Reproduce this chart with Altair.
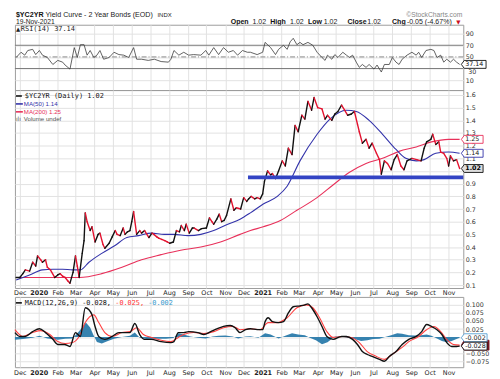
import altair as alt
import numpy as np
import pandas as pd

# ---------------- data ----------------
price_dates = [
    "2019-11-25", "2019-12-01", "2019-12-06", "2019-12-10", "2019-12-17", "2019-12-22", "2019-12-27", "2019-12-30", "2020-01-04", "2020-01-07",
    "2020-01-12", "2020-01-15", "2020-01-20", "2020-01-27", "2020-02-01", "2020-02-05", "2020-02-09", "2020-02-13", "2020-02-18", "2020-02-21",
    "2020-02-26", "2020-03-01", "2020-03-04", "2020-03-07", "2020-03-12", "2020-03-15", "2020-03-17", "2020-03-20", "2020-03-25", "2020-03-28",
    "2020-04-02", "2020-04-07", "2020-04-10", "2020-04-15", "2020-04-18", "2020-04-25", "2020-04-30", "2020-05-05", "2020-05-08", "2020-05-13",
    "2020-05-18", "2020-05-21", "2020-05-25", "2020-05-29", "2020-06-01", "2020-06-04", "2020-06-09", "2020-06-14", "2020-06-17", "2020-06-22",
    "2020-06-29", "2020-07-04", "2020-07-07", "2020-07-12", "2020-07-15", "2020-07-20", "2020-07-25", "2020-07-29", "2020-08-02", "2020-08-08",
    "2020-08-13", "2020-08-18", "2020-08-21", "2020-08-26", "2020-08-29", "2020-09-03", "2020-09-08", "2020-09-11", "2020-09-18", "2020-09-23",
    "2020-10-01", "2020-10-06", "2020-10-10", "2020-10-13", "2020-10-18", "2020-10-22", "2020-10-26", "2020-10-30", "2020-11-03", "2020-11-10",
    "2020-11-15", "2020-11-19", "2020-11-26", "2020-12-01", "2020-12-06", "2020-12-09", "2020-12-13", "2020-12-19", "2020-12-23", "2020-12-28",
    "2021-01-01", "2021-01-04", "2021-01-09", "2021-01-14", "2021-01-17", "2021-01-22", "2021-01-27", "2021-02-02", "2021-02-07", "2021-02-12",
    "2021-02-18", "2021-02-23", "2021-02-28", "2021-03-06", "2021-03-11", "2021-03-16", "2021-03-22", "2021-03-26", "2021-04-01", "2021-04-08",
    "2021-04-13", "2021-04-17", "2021-04-24", "2021-04-29", "2021-05-04", "2021-05-10", "2021-05-15", "2021-05-20", "2021-05-26", "2021-05-31",
    "2021-06-05", "2021-06-08", "2021-06-13", "2021-06-19", "2021-06-24", "2021-06-29", "2021-07-06", "2021-07-11", "2021-07-14", "2021-07-19",
    "2021-07-24", "2021-07-30", "2021-08-04", "2021-08-09", "2021-08-15", "2021-08-20", "2021-08-25", "2021-09-02", "2021-09-10", "2021-09-17",
    "2021-09-22", "2021-09-26", "2021-10-03", "2021-10-06", "2021-10-11", "2021-10-16", "2021-10-19", "2021-10-24", "2021-10-29", "2021-11-01",
    "2021-11-04", "2021-11-09", "2021-11-14", "2021-11-19",
]
price_values = [
    0.16, 0.16, 0.19, 0.22, 0.21, 0.28, 0.25, 0.33, 0.30, 0.28,
    0.30, 0.24, 0.22, 0.16, 0.18, 0.19, 0.17, 0.16, 0.13, 0.115,
    0.20, 0.33, 0.25, 0.16, 0.35, 0.45, 0.67, 0.60, 0.53, 0.56,
    0.44, 0.50, 0.51, 0.42, 0.39, 0.43, 0.48, 0.53, 0.50, 0.49,
    0.55, 0.50, 0.52, 0.53, 0.60, 0.68, 0.50, 0.53, 0.51, 0.53,
    0.475, 0.51, 0.50, 0.48, 0.47, 0.46, 0.45, 0.44, 0.43, 0.44,
    0.53, 0.52, 0.57, 0.53, 0.58, 0.51, 0.55, 0.55, 0.53, 0.545,
    0.55, 0.63, 0.60, 0.58, 0.62, 0.66, 0.60, 0.61, 0.65, 0.78,
    0.69, 0.71, 0.70, 0.79, 0.76, 0.78, 0.80, 0.78, 0.79, 0.78,
    0.82, 0.92, 1.00, 0.97, 0.98, 0.94, 1.00, 1.08, 1.04, 1.18,
    1.13, 1.36, 1.31, 1.44, 1.41, 1.55, 1.48, 1.58, 1.50, 1.49,
    1.41, 1.44, 1.40, 1.45, 1.47, 1.52, 1.48, 1.44, 1.45, 1.47,
    1.37, 1.31, 1.22, 1.25, 1.18, 1.22, 1.14, 1.09, 0.975, 1.08,
    1.06, 1.01, 1.09, 1.13, 1.04, 1.01, 1.08, 1.10, 1.09, 1.08,
    1.18, 1.23, 1.25, 1.29, 1.21, 1.23, 1.15, 1.14, 1.10, 1.04,
    1.12, 1.08, 1.09, 1.02,
]

ma50_dates = [
    "2019-11-25", "2019-12-17", "2020-01-07", "2020-01-24", "2020-02-09", "2020-02-25", "2020-03-09", "2020-03-23", "2020-04-13", "2020-05-04",
    "2020-05-24", "2020-06-12", "2020-07-03", "2020-07-24", "2020-08-09", "2020-09-01", "2020-09-22", "2020-10-13", "2020-11-05", "2020-11-25",
    "2020-12-12", "2021-01-02", "2021-01-25", "2021-02-10", "2021-03-03", "2021-03-31", "2021-04-21", "2021-05-18", "2021-06-03", "2021-06-24",
    "2021-07-16", "2021-08-07", "2021-08-23", "2021-09-09", "2021-09-22", "2021-10-11", "2021-11-01", "2021-11-19",
]
ma50_values = [
    0.14, 0.18, 0.22, 0.225, 0.225, 0.22, 0.22, 0.28, 0.35, 0.41,
    0.475, 0.49, 0.51, 0.50, 0.50, 0.49, 0.50, 0.53, 0.58, 0.62,
    0.67, 0.74, 0.80, 0.88, 1.08, 1.29, 1.41, 1.48, 1.47, 1.40,
    1.29, 1.17, 1.10, 1.08, 1.09, 1.14, 1.15, 1.14,
]

ma200_dates = [
    "2019-11-25", "2019-12-27", "2020-01-29", "2020-03-07", "2020-04-13", "2020-05-16", "2020-06-17", "2020-07-19", "2020-08-20", "2020-09-22",
    "2020-10-24", "2020-11-25", "2020-12-12", "2021-01-02", "2021-01-30", "2021-02-26", "2021-03-31", "2021-04-26", "2021-05-23", "2021-06-19",
    "2021-07-16", "2021-08-12", "2021-09-09", "2021-10-04", "2021-11-01", "2021-11-19",
]
ma200_values = [
    0.16, 0.16, 0.16, 0.16, 0.19, 0.24, 0.30, 0.34, 0.375, 0.40,
    0.44, 0.50, 0.53, 0.56, 0.61, 0.69, 0.79, 0.89, 0.99, 1.06,
    1.10, 1.155, 1.19, 1.23, 1.25, 1.25,
]

support_level = [0.95]
support_start = ["2020-12-08"]

rsi_dates = [
    "2019-11-25", "2019-12-03", "2019-12-09", "2019-12-14", "2019-12-22", "2019-12-27", "2020-01-02", "2020-01-07", "2020-01-15", "2020-01-24",
    "2020-02-01", "2020-02-09", "2020-02-13", "2020-02-21", "2020-02-28", "2020-03-04", "2020-03-09", "2020-03-15", "2020-03-20", "2020-03-25",
    "2020-03-31", "2020-04-05", "2020-04-10", "2020-04-16", "2020-04-25", "2020-05-03", "2020-05-11", "2020-05-19", "2020-05-27", "2020-06-04",
    "2020-06-09", "2020-06-17", "2020-06-28", "2020-07-08", "2020-07-19", "2020-07-31", "2020-08-04", "2020-08-09", "2020-08-17", "2020-08-25",
    "2020-09-02", "2020-09-10", "2020-09-22", "2020-09-30", "2020-10-05", "2020-10-13", "2020-10-21", "2020-10-29", "2020-11-06", "2020-11-14",
    "2020-11-21", "2020-11-29", "2020-12-07", "2020-12-12", "2020-12-23", "2021-01-01", "2021-01-05", "2021-01-14", "2021-01-22", "2021-01-27",
    "2021-02-04", "2021-02-10", "2021-02-15", "2021-02-20", "2021-02-26", "2021-03-03", "2021-03-08", "2021-03-16", "2021-03-24", "2021-03-31",
    "2021-04-08", "2021-04-13", "2021-04-17", "2021-04-24", "2021-04-29", "2021-05-04", "2021-05-12", "2021-05-18", "2021-05-23", "2021-05-28",
    "2021-06-03", "2021-06-08", "2021-06-13", "2021-06-19", "2021-06-24", "2021-07-02", "2021-07-07", "2021-07-14", "2021-07-19", "2021-07-27",
    "2021-08-01", "2021-08-07", "2021-08-12", "2021-08-17", "2021-08-25", "2021-09-02", "2021-09-09", "2021-09-13", "2021-09-18", "2021-09-25",
    "2021-10-03", "2021-10-08", "2021-10-13", "2021-10-19", "2021-10-24", "2021-10-29", "2021-11-04", "2021-11-09", "2021-11-14", "2021-11-19",
]
rsi_values = [
    49, 58, 53, 61, 63, 54, 61, 53, 49, 37,
    44, 41, 36, 29, 66, 49, 71, 71, 53, 61,
    49, 53, 61, 46, 49, 58, 54, 53, 49, 66,
    46, 46, 44, 46, 42, 41, 46, 61, 53, 58,
    53, 54, 53, 61, 53, 66, 54, 66, 58, 61,
    53, 61, 58, 58, 54, 58, 75, 66, 54, 63,
    70, 63, 76, 82, 71, 75, 71, 75, 70, 58,
    49, 44, 53, 46, 54, 49, 58, 53, 49, 53,
    41, 32, 37, 32, 37, 29, 36, 24, 37, 37,
    49, 41, 37, 46, 53, 58, 53, 58, 49, 61,
    63, 61, 49, 53, 41, 46, 41, 46, 41, 37.14,
]

macd_dates = [
    "2019-11-23", "2019-12-01", "2019-12-10", "2019-12-22", "2020-01-02", "2020-01-12", "2020-01-24", "2020-02-01", "2020-02-12", "2020-02-21",
    "2020-03-01", "2020-03-09", "2020-03-17", "2020-03-23", "2020-03-28", "2020-04-02", "2020-04-08", "2020-04-18", "2020-04-30", "2020-05-11",
    "2020-05-20", "2020-05-29", "2020-06-06", "2020-06-14", "2020-06-22", "2020-07-03", "2020-07-19", "2020-08-04", "2020-08-09", "2020-08-16",
    "2020-08-25", "2020-09-02", "2020-09-17", "2020-09-27", "2020-10-08", "2020-10-19", "2020-10-29", "2020-11-09", "2020-11-17", "2020-11-25",
    "2020-12-04", "2020-12-12", "2020-12-23", "2021-01-01", "2021-01-05", "2021-01-10", "2021-01-17", "2021-01-27", "2021-02-04", "2021-02-12",
    "2021-02-20", "2021-03-03", "2021-03-11", "2021-03-16", "2021-03-22", "2021-03-31", "2021-04-08", "2021-04-16", "2021-04-26", "2021-05-10",
    "2021-05-18", "2021-05-28", "2021-06-05", "2021-06-13", "2021-06-21", "2021-06-29", "2021-07-11", "2021-07-19", "2021-07-27", "2021-08-07",
    "2021-08-17", "2021-08-28", "2021-09-09", "2021-09-18", "2021-09-26", "2021-10-04", "2021-10-13", "2021-10-21", "2021-10-29", "2021-11-06",
    "2021-11-14", "2021-11-19",
]
macd_values = [
    0.014, 0.002, 0.002, 0.017, 0.026, 0.014, -0.007, -0.023, -0.023, -0.029,
    0.014, 0.002, 0.091, 0.085, 0.069, 0.033, 0.002, -0.007, 0.002, 0.014,
    0.014, 0.014, 0.042, 0.008, -0.007, -0.007, -0.014, -0.017, -0.014, 0.014,
    0.014, 0.017, 0.014, 0.008, 0.017, 0.026, 0.033, 0.036, 0.029, 0.014,
    0.023, 0.026, 0.023, 0.023, 0.048, 0.060, 0.048, 0.045, 0.048, 0.075,
    0.094, 0.097, 0.100, 0.103, 0.091, 0.063, 0.033, 0.002, -0.007, 0.002,
    0.002, -0.007, -0.023, -0.045, -0.054, -0.060, -0.069, -0.075, -0.060, -0.045,
    -0.023, -0.007, 0.002, 0.017, 0.039, 0.033, 0.023, 0.008, -0.017, -0.029,
    -0.029, -0.028,
]

signal_dates = [
    "2019-11-23", "2019-12-06", "2019-12-22", "2020-01-04", "2020-01-19", "2020-02-01", "2020-02-13", "2020-02-25", "2020-03-07", "2020-03-17",
    "2020-03-31", "2020-04-08", "2020-04-18", "2020-04-30", "2020-05-16", "2020-05-29", "2020-06-09", "2020-06-20", "2020-07-03", "2020-07-19",
    "2020-08-04", "2020-08-16", "2020-08-25", "2020-09-10", "2020-09-27", "2020-10-13", "2020-10-29", "2020-11-14", "2020-11-25", "2020-12-12",
    "2020-12-28", "2021-01-10", "2021-01-25", "2021-02-10", "2021-02-26", "2021-03-14", "2021-03-24", "2021-04-04", "2021-04-16", "2021-04-26",
    "2021-05-12", "2021-05-26", "2021-06-08", "2021-06-21", "2021-07-06", "2021-07-19", "2021-08-01", "2021-08-17", "2021-08-28", "2021-09-13",
    "2021-09-26", "2021-10-08", "2021-10-19", "2021-10-29", "2021-11-09", "2021-11-19",
]
signal_values = [
    0.023, 0.002, 0.014, 0.020, 0.008, -0.014, -0.020, -0.017, 0.002, 0.045,
    0.069, 0.045, 0.014, 0.002, 0.014, 0.017, 0.029, 0.008, -0.001, -0.010,
    -0.014, -0.001, 0.008, 0.014, 0.011, 0.017, 0.029, 0.033, 0.023, 0.026,
    0.023, 0.045, 0.045, 0.060, 0.091, 0.100, 0.091, 0.060, 0.017, -0.001,
    0.002, -0.001, -0.017, -0.045, -0.060, -0.069, -0.053, -0.032, -0.014, 0.002,
    0.023, 0.033, 0.017, -0.007, -0.023, -0.025,
]

hist_dates = [
    "2019-11-23", "2019-12-06", "2019-12-22", "2020-01-02", "2020-01-15", "2020-02-01", "2020-02-13", "2020-02-25", "2020-03-04", "2020-03-12",
    "2020-03-18", "2020-03-25", "2020-03-30", "2020-04-05", "2020-04-13", "2020-04-23", "2020-05-03", "2020-05-16", "2020-05-29", "2020-06-06",
    "2020-06-14", "2020-06-25", "2020-07-11", "2020-07-27", "2020-08-08", "2020-08-16", "2020-08-25", "2020-09-05", "2020-09-17", "2020-09-30",
    "2020-10-11", "2020-10-21", "2020-11-01", "2020-11-13", "2020-11-22", "2020-12-04", "2020-12-12", "2020-12-25", "2021-01-05", "2021-01-14",
    "2021-01-27", "2021-02-07", "2021-02-18", "2021-02-28", "2021-03-11", "2021-03-19", "2021-03-29", "2021-04-08", "2021-04-17", "2021-04-29",
    "2021-05-10", "2021-05-20", "2021-05-31", "2021-06-11", "2021-06-21", "2021-07-01", "2021-07-11", "2021-07-20", "2021-07-30", "2021-08-09",
    "2021-08-17", "2021-08-28", "2021-09-07", "2021-09-17", "2021-09-26", "2021-10-04", "2021-10-13", "2021-10-21", "2021-10-29", "2021-11-06",
    "2021-11-14", "2021-11-19",
]
hist_values = [
    -0.008, -0.006, -0.002, 0.004, -0.004, -0.008, -0.005, -0.004, 0.012, 0.030,
    0.045, 0.030, 0.008, -0.015, -0.020, -0.012, -0.005, 0.000, 0.004, 0.014,
    -0.002, -0.006, -0.005, -0.005, -0.003, 0.012, 0.008, 0.002, -0.002, -0.004,
    0.002, 0.004, 0.005, 0.002, -0.004, 0.002, 0.003, -0.002, 0.012, 0.008,
    -0.004, 0.004, 0.012, 0.008, 0.006, -0.002, -0.010, -0.022, -0.016, 0.002,
    0.002, -0.002, -0.006, -0.012, -0.010, -0.006, -0.005, 0.000, 0.006, 0.012,
    0.010, 0.006, 0.005, 0.006, 0.008, 0.004, -0.004, -0.012, -0.016, -0.012,
    -0.006, -0.002,
]

rsi_ticks = [10, 30, 50, 70, 90]
rsi_bands = [30, 70]
rsi_mid = [50]
main_ticks = [0.1, 0.2, 0.3, 0.4, 0.5, 0.6, 0.7, 0.8, 0.9, 1.0, 1.1, 1.2, 1.3, 1.4, 1.5, 1.6]
macd_ticks = [-0.075, -0.05, -0.025, 0.0, 0.025, 0.05, 0.075, 0.1]

# ---------------- layout / style ----------------
W = 453
H_HDR, H_RSI, H_MAIN, H_GAP, H_MACD = 14, 66, 200, 9, 71
RSI_DOMAIN = [-7, 105.3]
MAIN_DOMAIN = [0.0766, 1.639]
MACD_DOMAIN = [-0.0934, 0.1246]
X_DOMAIN = [alt.DateTime(year=2019, month=11, date=23), alt.DateTime(year=2021, month=11, date=25)]
MONTHS = [(2019, 12)] + [(2020, m) for m in range(1, 13)] + [(2021, m) for m in range(1, 12)]
TICKS = [alt.DateTime(year=y, month=m, date=1) for y, m in MONTHS]

AX = "DejaVu Sans"
MONO = "DejaVu Sans Mono"
SANS = "Liberation Sans"
GRID = "#e2e2e2"
ONE = pd.DataFrame({"k": [0]})
NOVIEW = alt.ViewBackground(stroke="transparent")

# labels that sit under a value tag are left blank (the tag covers them in the original)
RSI_LABELS = "abs(datum.value - 30) < 1e-6 ? '' : format(datum.value, 'd')"
MAIN_LABELS = "abs(datum.value - 1.0) < 1e-6 ? '' : format(datum.value, '.1f')"
MACD_LABELS = "(abs(datum.value) < 1e-6 || abs(datum.value + 0.025) < 1e-6) ? '' : format(datum.value, '.3f')"


def xenc(labels=True):
    return alt.X(
        "date:T",
        scale=alt.Scale(domain=X_DOMAIN),
        axis=alt.Axis(
            values=TICKS, labels=labels, grid=True, gridColor=GRID, ticks=False, domain=False, title=None,
            labelExpr="month(datum.value) == 0 ? timeFormat(datum.value, '%Y') : timeFormat(datum.value, '%b')",
            labelFontWeight={"condition": {"test": "month(datum.value) == 0", "value": "bold"}, "value": "normal"},
            labelFont=AX, labelFontSize=6.5, labelColor="#222", labelPadding=2, labelAlign="center",
            labelFlush=False, labelOverlap=False, labelBound=False,
        ),
    )


def yenc(field, domain, ticks, expr):
    return alt.Y(
        f"{field}:Q",
        scale=alt.Scale(domain=domain, nice=False, zero=False),
        axis=alt.Axis(
            orient="right", values=ticks, labelExpr=expr, grid=True, gridColor=GRID, ticks=False, domain=False,
            title=None, labelFont=AX, labelFontSize=6.4, labelColor="#333", labelPadding=2,
            labelAlign="left", labelBaseline="middle", labelOverlap=False,
        ),
    )


def label(text, x, y, size, color="#000", font=MONO, weight="normal", align="left", baseline="middle"):
    return alt.Chart(ONE).mark_text(
        text=text, font=font, fontSize=size, fontWeight=weight, color=color, align=align, baseline=baseline
    ).encode(x=alt.value(x), y=alt.value(y))


def swatch(x1, x2, y, color, width=1.6):
    return alt.Chart(ONE).mark_rule(color=color, strokeWidth=width).encode(
        x=alt.value(x1), x2=alt.value(x2), y=alt.value(y)
    )


def tag(value, text, field, domain, ticks, expr, width, stroke, fill="white", textcolor="#222", bold=False, height=8):
    df = pd.DataFrame({field: [value], "t": [text]})
    hh = height / width
    px = -1 + 6.0 / width
    path = f"M-1,0L{px:.4f},{-hh:.4f}L1,{-hh:.4f}L1,{hh:.4f}L{px:.4f},{hh:.4f}Z"
    y = yenc(field, domain, ticks, expr)
    box = alt.Chart(df).mark_point(
        shape=path, size=width * width, filled=True, fill=fill, stroke=stroke, strokeWidth=0.9, opacity=1
    ).encode(x=alt.value(W - 2 + width / 2), y=y)
    layers = [box]
    if text:
        layers.append(alt.Chart(df).mark_text(
            align="left", baseline="middle", font=AX, fontSize=6.4,
            fontWeight="bold" if bold else "normal", color=textcolor,
        ).encode(x=alt.value(W + 2), y=y, text="t:N"))
    return layers


# ---------------- header ----------------
R1, R2 = 6.6, 13.6
header = alt.layer(
    label("$YC2YR", 1, R1, 7.2, "#111", SANS, "bold", baseline="alphabetic"),
    label("Yield Curve - 2 Year Bonds (EOD)", 31, R1, 7.2, "#222", SANS, baseline="alphabetic"),
    label("INDX", 144, R1, 6.0, "#222", SANS, baseline="alphabetic"),
    label("\u00a9StockCharts.com", 452, 5.8, 6.8, "#888", SANS, align="right", baseline="alphabetic"),
    label("19-Nov-2021", 1, R2, 6.8, "#222", SANS, baseline="alphabetic"),
    label("Open", 218, R2, 7.1, "#111", SANS, "bold", baseline="alphabetic"),
    label("1.02", 240, R2, 7.1, "#222", SANS, baseline="alphabetic"),
    label("High", 258, R2, 7.1, "#111", SANS, "bold", baseline="alphabetic"),
    label("1.02", 278, R2, 7.1, "#222", SANS, baseline="alphabetic"),
    label("Low", 296, R2, 7.1, "#111", SANS, "bold", baseline="alphabetic"),
    label("1.02", 312, R2, 7.1, "#222", SANS, baseline="alphabetic"),
    label("Close", 336, R2, 7.1, "#111", SANS, "bold", baseline="alphabetic"),
    label("1.02", 356, R2, 7.1, "#222", SANS, baseline="alphabetic"),
    label("Chg", 381, R2, 7.1, "#111", SANS, "bold", baseline="alphabetic"),
    label("-0.05 (-4.67%)", 396, R2, 7.1, "#222", SANS, baseline="alphabetic"),
    label("\u25bc", 446, R2 - 0.5, 5.5, "#cc1122", AX, baseline="alphabetic"),
).properties(width=W, height=H_HDR, view=NOVIEW)

# ---------------- RSI panel ----------------
rsi_df = pd.DataFrame({"date": pd.to_datetime(rsi_dates), "rsi": rsi_values})
ry = yenc("rsi", RSI_DOMAIN, rsi_ticks, RSI_LABELS)
rsi_line = alt.Chart(rsi_df).mark_line(color="#3a3a3a", strokeWidth=0.8).encode(x=xenc(False), y=ry)
rsi_band_rules = alt.Chart(pd.DataFrame({"rsi": rsi_bands})).mark_rule(color="#7a7a7a", strokeWidth=1).encode(y=ry)
rsi_mid_rule = alt.Chart(pd.DataFrame({"rsi": rsi_mid})).mark_rule(
    color="#8a8a8a", strokeWidth=1, strokeDash=[5, 2, 1, 2]).encode(y=ry)
# the "30" label peeks out just below the 37.14 tag
rsi30 = alt.Chart(pd.DataFrame({"rsi": [30], "t": ["30"]})).mark_text(
    align="left", baseline="top", font=AX, fontSize=6.4, color="#333", dy=0.5,
).encode(x=alt.value(W + 5), y=ry, text="t:N")
rsi_chart = alt.layer(
    rsi_band_rules, rsi_mid_rule, rsi_line,
    label("\u25b2", 1, 4.0, 5.5, "#222", AX),
    label("RSI(14) 37.14", 6, 4.0, 7.0, "#222", MONO),
    rsi30,
    *tag(37.14, "37.14", "rsi", RSI_DOMAIN, rsi_ticks, RSI_LABELS, 25, "#111", textcolor="#111"),
).properties(width=W, height=H_RSI)

# ---------------- main panel ----------------
pdf = pd.DataFrame({"date": pd.to_datetime(price_dates), "value": price_values})
seg = pdf.copy()
seg["date2"] = pdf["date"].shift(-1)
seg["value2"] = pdf["value"].shift(-1)
seg = seg.dropna()
seg["dir"] = np.where(seg["value2"] >= seg["value"], "up", "down")

my = yenc("value", MAIN_DOMAIN, main_ticks, MAIN_LABELS)
ma50_df = pd.DataFrame({"date": pd.to_datetime(ma50_dates), "value": ma50_values})
ma200_df = pd.DataFrame({"date": pd.to_datetime(ma200_dates), "value": ma200_values})
sup_df = pd.DataFrame({"date": pd.to_datetime(support_start), "date2": [pd.Timestamp("2021-11-25")], "value": support_level})

ma200_line = alt.Chart(ma200_df).mark_line(color="#e8305a", strokeWidth=1.1, interpolate="monotone").encode(x=xenc(True), y=my)
ma50_line = alt.Chart(ma50_df).mark_line(color="#3333aa", strokeWidth=1.1, interpolate="monotone").encode(x=xenc(True), y=my)
price_rules = alt.Chart(seg).mark_rule(strokeWidth=1.4, strokeCap="round").encode(
    x=xenc(True), x2=alt.X2("date2"), y=my, y2=alt.Y2("value2"),
    color=alt.Color("dir:N", scale=alt.Scale(domain=["up", "down"], range=["#111111", "#e3122f"]), legend=None),
)
support = alt.Chart(sup_df).mark_rule(color="#3344c4", strokeWidth=4, strokeCap="butt").encode(
    x=xenc(True), x2=alt.X2("date2"), y=my)

main_chart = alt.layer(
    ma200_line, ma50_line, price_rules, support,
    swatch(1, 7, 6, "#111"), label("$YC2YR (Daily) 1.02", 10, 6, 7.0, "#111", MONO),
    swatch(1, 8, 14, "#3333aa"), label("MA(50) 1.14", 9, 14, 6.2, "#3333aa", SANS),
    swatch(1, 8, 22, "#e8305a"), label("MA(200) 1.25", 9, 22, 6.2, "#e8305a", SANS),
    label("\u0131l\u0131", 1, 29, 6.0, "#555", AX), label("Volume undef", 9, 29, 6.2, "#555", SANS),
    *tag(1.25, "1.25", "value", MAIN_DOMAIN, main_ticks, MAIN_LABELS, 22, "#e8305a"),
    *tag(1.14, "1.14", "value", MAIN_DOMAIN, main_ticks, MAIN_LABELS, 22, "#3333aa"),
    *tag(1.02, "1.02", "value", MAIN_DOMAIN, main_ticks, MAIN_LABELS, 22, "#111", fill="#dddddd", textcolor="#000", bold=True),
).properties(width=W, height=H_MAIN)

# spacer that leaves room for the main panel's date labels
gap = alt.Chart(ONE).mark_point(opacity=0).encode(x=alt.value(0), y=alt.value(0)).properties(
    width=W, height=H_GAP, view=NOVIEW)

# ---------------- MACD panel ----------------
mcy = yenc("macd", MACD_DOMAIN, macd_ticks, MACD_LABELS)
macd_df = pd.DataFrame({"date": pd.to_datetime(macd_dates), "macd": macd_values})
sig_df = pd.DataFrame({"date": pd.to_datetime(signal_dates), "macd": signal_values})
hist_df = pd.DataFrame({"date": pd.to_datetime(hist_dates), "macd": hist_values})

hist_area = alt.Chart(hist_df).mark_area(color="#2b7bab", opacity=0.95).encode(x=xenc(True), y=mcy, y2=alt.datum(0))
sig_line = alt.Chart(sig_df).mark_line(color="#ff4040", strokeWidth=1.1, interpolate="monotone").encode(x=xenc(True), y=mcy)
macd_line = alt.Chart(macd_df).mark_line(color="#111111", strokeWidth=1.4, interpolate="monotone").encode(x=xenc(True), y=mcy)

adv = 0.6021 * 6.9
macd_chart = alt.layer(
    hist_area, sig_line, macd_line,
    swatch(1, 7, 6, "#111"),
    label("MACD(12,26,9) -0.028,", 10, 6, 6.9, "#111", MONO),
    label("-0.025,", 10 + 22 * adv, 6, 6.9, "#ff3030", MONO),
    label("-0.002", 10 + 30 * adv, 6, 6.9, "#3399cc", MONO),
    *tag(-0.025, "", "macd", MACD_DOMAIN, macd_ticks, MACD_LABELS, 28, "#7a1622", fill="#7a1622", height=10),
    *tag(-0.002, "-0.002", "macd", MACD_DOMAIN, macd_ticks, MACD_LABELS, 26, "#55a0d3"),
    *tag(-0.028, "-0.028", "macd", MACD_DOMAIN, macd_ticks, MACD_LABELS, 26, "#111", textcolor="#111"),
).properties(width=W, height=H_MACD)

chart = alt.vconcat(header, rsi_chart, main_chart, gap, macd_chart, spacing=0, bounds="flush").properties(
    padding={"left": 3, "top": 0, "right": 0, "bottom": 0}, background="white"
).configure_view(stroke="#9c9c9c", strokeWidth=1)

chart.save("out.html", embed_options={"renderer": "svg", "actions": False})
